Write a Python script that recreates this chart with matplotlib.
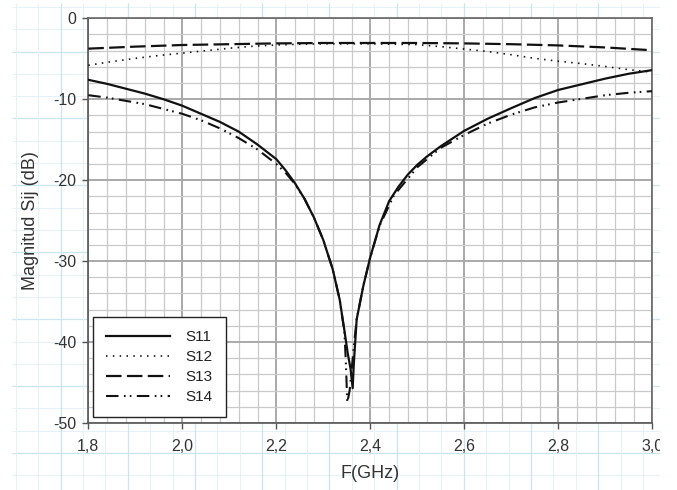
import numpy as np
import matplotlib
matplotlib.use("Agg")
import matplotlib.pyplot as plt
from matplotlib.patches import Rectangle

plt.rcParams['font.family'] = ['Liberation Sans', 'DejaVu Sans']
plt.rcParams['axes.unicode_minus'] = False

# ---------------- data ----------------
f_s11 = [1.80, 1.84, 1.88, 1.92, 1.96, 2.00, 2.04, 2.08, 2.12, 2.16, 2.20, 2.22,
         2.24, 2.26, 2.28, 2.30, 2.32, 2.335, 2.345, 2.352, 2.358, 2.3625, 2.365,
         2.371, 2.385, 2.40, 2.42, 2.44, 2.46, 2.48, 2.50, 2.52, 2.55, 2.60, 2.65,
         2.70, 2.75, 2.80, 2.85, 2.90, 2.95, 3.00]
s11 = [-7.6, -8.1, -8.7, -9.3, -10.0, -10.8, -11.8, -12.8, -14.0, -15.6, -17.4, -18.8,
       -20.4, -22.3, -24.6, -27.4, -31.0, -34.8, -38.6, -41.4, -43.3, -45.7, -42.6,
       -37.2, -33.1, -29.5, -25.5, -22.6, -20.8, -19.3, -18.1, -17.1, -15.8, -13.9, -12.4,
       -11.1, -9.85, -8.85, -8.15, -7.45, -6.85, -6.4]

f_s12 = [1.80, 1.85, 1.90, 1.95, 2.00, 2.05, 2.10, 2.15, 2.20, 2.25, 2.30, 2.35,
         2.40, 2.45, 2.50, 2.55, 2.60, 2.65, 2.70, 2.75, 2.80, 2.85, 2.90, 2.95, 3.00]
s12 = [-5.8, -5.35, -4.95, -4.6, -4.3, -4.0, -3.7, -3.45, -3.3, -3.2, -3.15, -3.15,
       -3.15, -3.2, -3.25, -3.5, -3.8, -4.1, -4.5, -4.95, -5.3, -5.6, -5.95, -6.35, -6.65]

f_s13 = [1.80, 1.90, 2.00, 2.10, 2.20, 2.30, 2.40, 2.50, 2.60, 2.70, 2.80, 2.90, 3.00]
s13 = [-3.75, -3.5, -3.3, -3.2, -3.1, -3.05, -3.05, -3.05, -3.1, -3.2, -3.35, -3.6, -3.95]

f_s14 = [1.80, 1.84, 1.88, 1.92, 1.96, 2.00, 2.04, 2.08, 2.12, 2.16, 2.20, 2.22,
         2.24, 2.26, 2.28, 2.30, 2.32, 2.335, 2.345, 2.348, 2.351, 2.356, 2.36, 2.365,
         2.371, 2.385, 2.40, 2.42, 2.45, 2.50, 2.55, 2.60, 2.65, 2.70, 2.75, 2.80,
         2.85, 2.90, 2.95, 3.00]
s14 = [-9.5, -9.8, -10.2, -10.6, -11.2, -11.8, -12.6, -13.6, -14.8, -16.2, -18.0, -19.1,
       -20.5, -22.3, -24.6, -27.4, -31.0, -34.8, -38.8, -42.5, -47.5, -46.0, -43.6, -40.5,
       -37.2, -33.1, -29.5, -25.6, -21.9, -18.4, -16.0, -14.4, -13.0, -11.9, -11.0, -10.4,
       -9.95, -9.5, -9.2, -9.0]

series_names = ['S11', 'S12', 'S13', 'S14']
x_ticks = [1.8, 2.0, 2.2, 2.4, 2.6, 2.8, 3.0]
x_tick_labels = ['1,8', '2,0', '2,2', '2,4', '2,6', '2,8', '3,0']
y_ticks = [0, -10, -20, -30, -40, -50]
y_tick_labels = ['0', '-10', '-20', '-30', '-40', '-50']

# ---------------- figure ----------------
W, H = 677, 490
fig = plt.figure(figsize=(W / 100, H / 100), dpi=100)
fig.patch.set_facecolor('white')

# background graph paper
bg = fig.add_axes([0, 0, 1, 1], zorder=-5)
bg.set_xlim(0, W)
bg.set_ylim(H, 0)
bg.axis('off')
for i, yy in enumerate(np.arange(7.0, H, 22.3)):
    strong = (i % 3 == 2)
    bg.plot([12, 660], [yy, yy], color='#c9e5ef' if strong else '#e4f2f7',
            lw=0.9 if strong else 0.7, solid_capstyle='butt')
for i, xx in enumerate(np.arange(83.0 - 22.4 * 3, 661, 22.4)):
    strong = (i % 3 == 2)
    bg.plot([xx, xx], [3, H], color='#c9e5ef' if strong else '#e4f2f7',
            lw=0.9 if strong else 0.7, solid_capstyle='butt')

L, R, T, B = 88.3, 652.3, 18.3, 423.0
ax = fig.add_axes([L / W, 1 - B / H, (R - L) / W, (B - T) / H])
ax.set_facecolor('white')

styles = {
    'S11': dict(color='#111111', lw=1.6, ls='-'),
    'S12': dict(color='#111111', lw=1.2, ls=(0, (0.9, 3.2))),
    'S13': dict(color='#111111', lw=1.6, ls=(0, (7.0, 2.4))),
    'S14': dict(color='#111111', lw=1.5, ls=(0, (6.0, 2.6, 0.8, 2.0, 0.8, 2.6))),
}
xs = [f_s11, f_s12, f_s13, f_s14]
ys = [s11, s12, s13, s14]
handles = []
for name, fx, fy in zip(series_names, xs, ys):
    h, = ax.plot(fx, fy, label=name, zorder=3, **styles[name])
    handles.append(h)

ax.set_xlim(1.8, 3.0)
ax.set_ylim(-50, 0)
ax.set_xticks(x_ticks)
ax.set_xticklabels(x_tick_labels)
ax.set_yticks(y_ticks)
ax.set_yticklabels(y_tick_labels)
ax.set_xticks(np.arange(1.8, 3.0001, 0.04), minor=True)
ax.set_yticks(np.arange(-50, 0.001, 2), minor=True)

ax.grid(which='minor', color='#c9c9c9', lw=0.9, zorder=0)
ax.grid(which='major', color='#a9a9a9', lw=1.4, zorder=0)
ax.set_axisbelow(True)

ax.tick_params(which='major', direction='out', length=4.2, width=1.0, color='#555555',
               labelsize=11.5, labelcolor='#333333')
ax.tick_params(axis='x', which='major', pad=7.5)
ax.tick_params(axis='y', which='major', pad=4.5)
ax.tick_params(which='minor', length=0)
for s in ax.spines.values():
    s.set_color('#666666')
    s.set_linewidth(1.2)
ax.spines['left'].set_color('#555555')
ax.spines['bottom'].set_color('#555555')

ax.set_xlabel('F(GHz)', fontsize=13, color='#333333', labelpad=8)
ax.set_ylabel('Magnitud Sij (dB)', fontsize=13, color='#333333', labelpad=10)

leg = ax.legend(handles=handles, loc='lower left',
                bbox_to_anchor=((93 - L) / (R - L), (B - 417) / (B - T)),
                borderaxespad=0, fontsize=11, frameon=True, fancybox=False,
                framealpha=1, edgecolor='#222222', handlelength=4.2,
                handletextpad=1.0, labelspacing=0.39, borderpad=0.85)
leg.get_frame().set_linewidth(1.0)
for t in leg.get_texts():
    t.set_color('#222222')

# right edge of the reference is cut off (clips the "3,0" label)
fig.patches.append(Rectangle((660 / W, 0), 1 - 660 / W, 1, transform=fig.transFigure,
                             facecolor='white', edgecolor='none', zorder=20))

fig.savefig('out.png', dpi=100)
